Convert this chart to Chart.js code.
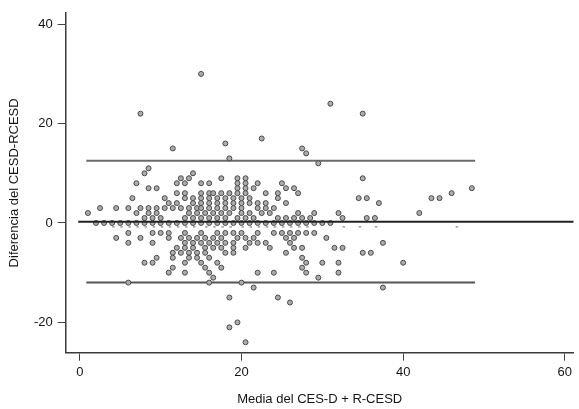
<!DOCTYPE html>
<html><head><meta charset="utf-8">
<script src="https://cdn.jsdelivr.net/npm/chart.js@4/dist/chart.umd.min.js"></script>
<style>html,body{margin:0;padding:0;background:#fff;}#wrap{width:579px;height:409px;}</style>
</head><body><div id="wrap"><canvas id="c" width="579" height="409"></canvas></div>
<script>
// Tick labels
const xTicks = [0, 20, 40, 60];
const yTicks = [-20, 0, 20, 40];

// Difference (CESD - RCESD) for each row of points
const diffRows = [30, 24, 22, 17, 16, 15, 14, 13, 12, 11, 10, 9, 8, 7, 6, 5, 4, 3, 2, 1, 0,
  -2, -3, -4, -5, -6, -7, -8, -9, -10, -11, -12, -13, -15, -16, -20, -21, -24];

// Mean of CES-D + R-CESD for the points in each row
const meanByRow = [
  [15],
  [31],
  [7.5, 35],
  [22.5],
  [18],
  [11.5, 27.5],
  [28],
  [18.5],
  [29.5],
  [8.5],
  [8, 14],
  [12.5, 13.5, 17.5, 19.5, 20.5, 35],
  [7, 12, 13, 15, 16, 19.5, 20.5, 22, 25],
  [8.5, 9.5, 19.5, 20.5, 21.5, 25.5, 26.5, 48.5],
  [12, 13, 15, 16, 16.5, 17.5, 18.5, 19.5, 20.5, 23, 24.5, 27, 46],
  [6.5, 10.5, 13, 14, 15, 16, 17, 18, 19, 20, 21, 24.5, 34.5, 35.5, 43.5, 44.5],
  [11, 12, 14, 15, 16, 17, 18, 19, 20, 21, 22, 23, 25.5, 37],
  [2.5, 4.5, 6, 7.5, 8.5, 9.5, 10.5, 11.5, 12.5, 13.5, 14.5, 15, 16, 17, 18, 19, 20, 22, 23, 24],
  [1, 7, 8.5, 9.5, 13.5, 14.5, 15.5, 16.5, 17.5, 18.5, 20, 21, 22.5, 23.5, 27, 29, 32, 42],
  [8, 9, 10, 13, 14, 15, 16, 17, 18, 19.5, 20.5, 21.5, 24.5, 25.5, 26.5, 27.5, 28.5, 32.5, 35.5, 36.5],
  [2, 3, 4, 5, 6, 7, 8, 9, 10, 11, 12, 13, 14, 15, 16, 17, 18, 19, 20, 21, 22, 23, 24, 25, 26, 27, 28, 29, 30, 31],
  [6, 9, 10, 11, 13, 15, 17, 18, 19, 20, 22, 24, 25, 26, 27, 28, 29],
  [4.5, 7.5, 11, 12.5, 13.5, 14.5, 15.5, 16.5, 17.5, 19.5, 20.5, 21.5, 25.5, 26.5, 30.5],
  [6, 9, 13, 14, 15, 16, 17, 18, 19, 21, 22, 23, 26, 37.5],
  [12, 13, 14, 15.5, 16.5, 17.5, 19, 20.5, 23.5, 26.5, 27.5, 31.5, 32.5],
  [11.5, 12.5, 13.5, 14.5, 15.5, 18, 19, 25.5, 35, 36],
  [9.5, 11.5, 13.5, 14.5, 16, 27.5],
  [8, 9, 13, 15, 17, 28, 30, 32, 40],
  [11.5, 15.5, 17.5, 27.5],
  [11, 13, 16, 22, 24, 28, 32],
  [16.5, 29.5],
  [6, 16, 20],
  [21.5, 37.5],
  [18.5, 24.5],
  [26],
  [19.5],
  [18.5],
  [20.5]
];

// Faint half-hidden markers just under the mean line
const faintRowY = -0.8;
const faintRowX = [4, 5, 6, 7, 8, 9, 10, 11, 12, 13, 14, 15.5, 16.5, 17.5, 18.5, 20, 21, 22, 23, 24, 25, 26, 27, 28, 32.5, 34.5, 36.5, 46.5];

// Mean difference and limits of agreement
const meanDiff = 0.26;
const upperLoA = 12.5;
const lowerLoA = -12;
const meanSpan = [-0.2, 61.1];
const loaSpan = [0.8, 48.9];

const points = [];
diffRows.forEach((y, i) => meanByRow[i].forEach(x => points.push({x: x, y: y})));
const faint = faintRowX.map(x => ({x: x, y: faintRowY}));
const seg = (span, y) => [{x: span[0], y: y}, {x: span[1], y: y}];

const FONT = {family: "'Liberation Sans', Arial, sans-serif", size: 13};
const TXT = '#151515';

new Chart(document.getElementById('c').getContext('2d'), {
  type: 'scatter',
  data: {datasets: [
    {data: seg(loaSpan, upperLoA), showLine: true, borderColor: '#6a6a6a', borderWidth: 2, pointRadius: 0, order: 3},
    {data: seg(loaSpan, lowerLoA), showLine: true, borderColor: '#555', borderWidth: 2, pointRadius: 0, order: 3},
    {data: faint, pointStyle: 'dash', pointRadius: 2.5, pointBorderColor: '#8a8a8a', pointBorderWidth: 1.3, order: 2},
    {data: points, pointRadius: 2.5, pointBackgroundColor: '#acacac', pointBorderColor: '#4a4a4a', pointBorderWidth: 1, order: 1},
    {data: seg(meanSpan, meanDiff), showLine: true, borderColor: '#222', borderWidth: 2, pointRadius: 0, order: 0}
  ]},
  options: {
    responsive: false, animation: false, devicePixelRatio: 1,
    layout: {padding: {top: 13, right: 0, bottom: 0, left: 0}},
    plugins: {legend: {display: false}, tooltip: {enabled: false}},
    scales: {
      x: {
        type: 'linear', min: -1.75, max: 61.1,
        afterBuildTicks: s => { s.ticks = xTicks.map(v => ({value: v})); },
        afterFit: s => { s.height = 56.3; s.paddingLeft = 0; s.paddingRight = 0; },
        grid: {drawOnChartArea: false, drawTicks: true, tickLength: 8, color: '#444', lineWidth: 1},
        border: {display: true, color: '#3a3a3a', width: 1.5},
        ticks: {color: TXT, font: FONT, padding: 4, maxRotation: 0, autoSkip: false},
        title: {display: true, text: 'Media del CES-D + R-CESD', color: TXT, font: FONT, padding: {top: 0, bottom: 1.5}}
      },
      y: {
        type: 'linear', min: -26.1, max: 42.25,
        afterBuildTicks: s => { s.ticks = yTicks.map(v => ({value: v})); },
        afterFit: s => { s.width = 65.7; s.paddingTop = 0; s.paddingBottom = 0; },
        grid: {drawOnChartArea: false, drawTicks: true, tickLength: 8, color: '#444', lineWidth: 1},
        border: {display: true, color: '#3a3a3a', width: 1.5},
        ticks: {color: TXT, font: FONT, padding: 5, autoSkip: false},
        title: {display: true, text: 'Diferencia del CESD-RCESD', color: TXT, font: FONT, padding: {top: 7, bottom: 0}}
      }
    }
  }
});
</script></body></html>
